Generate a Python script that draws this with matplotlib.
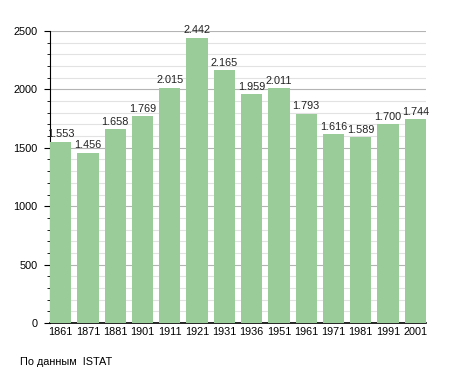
import numpy as np
import matplotlib.pyplot as plt
from matplotlib.ticker import MultipleLocator

years = ['1861', '1871', '1881', '1901', '1911', '1921', '1931',
         '1936', '1951', '1961', '1971', '1981', '1991', '2001']
population = [1553, 1456, 1658, 1769, 2015, 2442, 2165,
              1959, 2011, 1793, 1616, 1589, 1700, 1744]

plt.rcParams['font.family'] = ['Liberation Sans', 'DejaVu Sans']

fig = plt.figure(figsize=(4.55, 3.73), dpi=100)
ax = fig.add_axes([50 / 455, 50 / 373, 376 / 455, 292 / 373])

x = np.arange(len(years))
w = 0.78
ax.bar(x, population, width=w, color='#99cc99', zorder=3)

for xi, v in zip(x, population):
    label = f'{v:,}'.replace(',', '.')
    ax.text(xi, v + 22, label, ha='center', va='bottom', fontsize=7.8, color='#222222')

ax.set_xlim(-w / 2, len(years) - 1 + w / 2)
ax.set_ylim(0, 2500)
ax.yaxis.set_major_locator(MultipleLocator(500))
ax.yaxis.set_minor_locator(MultipleLocator(100))
ax.grid(axis='y', which='major', color='#b4b4b4', linewidth=0.8, zorder=0)
ax.grid(axis='y', which='minor', color='#e2e2e2', linewidth=0.8, zorder=0)

ax.set_xticks(x)
ax.set_xticklabels(years)
ax.tick_params(axis='x', length=0, pad=3, labelsize=7.8)
ax.tick_params(axis='y', which='major', length=4, labelsize=7.8, pad=5)
ax.tick_params(axis='y', which='minor', length=2)

for s in ['top', 'right']:
    ax.spines[s].set_visible(False)
ax.spines['left'].set_color('black')
ax.spines['bottom'].set_color('black')
ax.spines['bottom'].set_linewidth(1.2)

fig.text(20 / 455, 1 - 362 / 373, 'По данным  ISTAT', fontsize=7.8, va='center', ha='left')

fig.savefig('out.png', dpi=100)
